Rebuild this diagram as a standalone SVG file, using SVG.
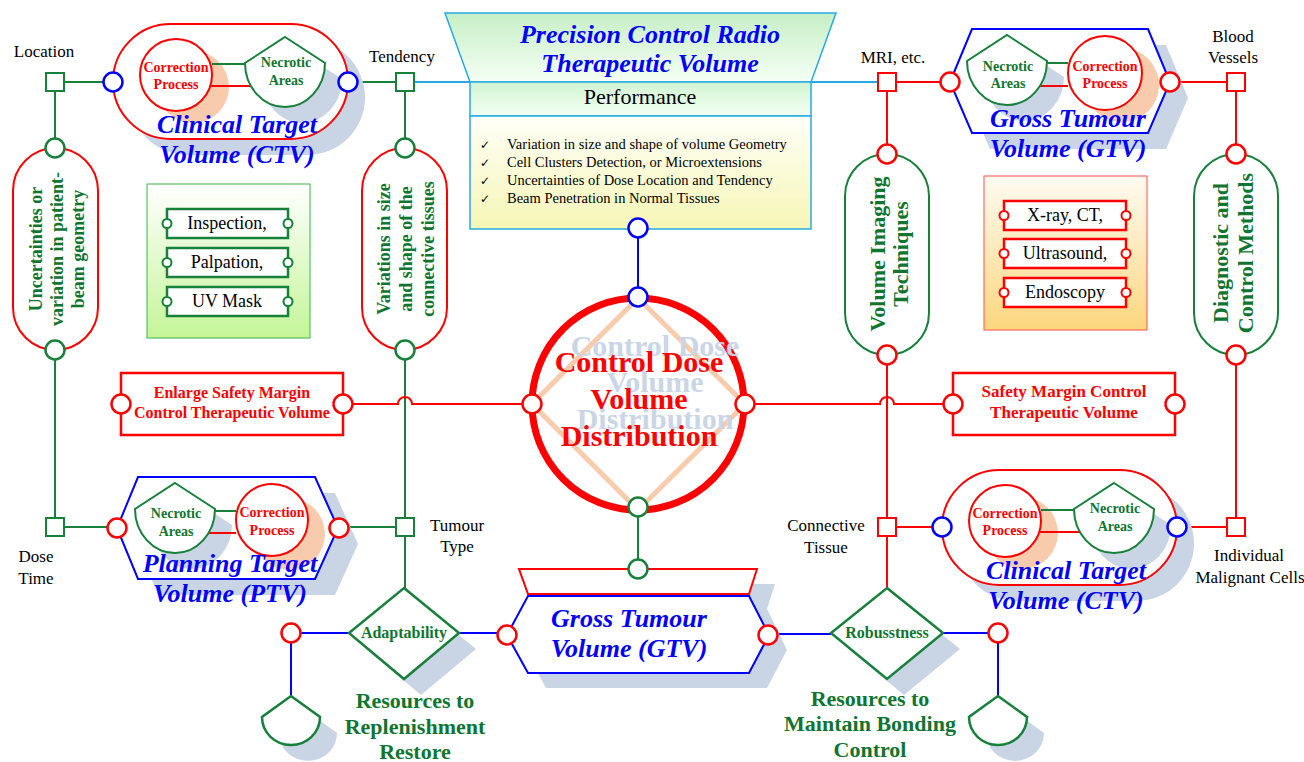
<svg xmlns="http://www.w3.org/2000/svg" width="1304" height="762" viewBox="0 0 1304 762">
<defs>
<linearGradient id="gTitle" x1="0" y1="0" x2="0" y2="1"><stop offset="0" stop-color="#c6efc6"/><stop offset="1" stop-color="#f5fff5"/></linearGradient>
<linearGradient id="gPerf" x1="0" y1="0" x2="0" y2="1"><stop offset="0" stop-color="#d2f4d2"/><stop offset="1" stop-color="#f2fff2"/></linearGradient>
<linearGradient id="gList" x1="0" y1="0" x2="0" y2="1"><stop offset="0" stop-color="#fffff8"/><stop offset="1" stop-color="#f6f6b6"/></linearGradient>
<linearGradient id="gGreen" x1="0" y1="0" x2="0" y2="1"><stop offset="0" stop-color="#ffffff"/><stop offset="1" stop-color="#c4f598"/></linearGradient>
<linearGradient id="gOrange" x1="0" y1="0" x2="0" y2="1"><stop offset="0" stop-color="#fffbf2"/><stop offset="1" stop-color="#fcd67e"/></linearGradient>
<path id="pent" d="M0,0 L40,26 A40,44 0 0 1 -40,26 Z"/>
<path id="shield" d="M0,0 L29,21 A29,28 0 0 1 -29,21 Z"/>
</defs>
<style>
.sg{stroke:#17803a;fill:none;stroke-width:2}
.sr{stroke:#ff0000;fill:none;stroke-width:2}
.sb{stroke:#0000ff;fill:none;stroke-width:2}
.sc{stroke:#27aae1;fill:none;stroke-width:2}
.sh{fill:#c9d5e5;stroke:none}
.pe{fill:#f8cbad;stroke:none}
.wg{fill:#fff;stroke:#17803a;stroke-width:2}
.wr{fill:#fff;stroke:#ff0000;stroke-width:2}
.wb{fill:#fff;stroke:#0000ff;stroke-width:2}
.pr{fill:#fff;stroke:#ff0000;stroke-width:2.5}
.pg{fill:#fff;stroke:#17803a;stroke-width:2.5}
.pb{fill:#fff;stroke:#0000ff;stroke-width:2.5}
text{font-family:"Liberation Serif","Times New Roman",serif;text-anchor:middle}
.lbl{font-size:17px;fill:#000}
.ttl{font-size:26px;font-weight:bold;font-style:italic;fill:#0000ff}
.cp{font-size:14px;font-weight:bold;fill:#ff0000}
.na{font-size:14px;font-weight:bold;fill:#0f7530}
.vg{font-size:18px;font-weight:bold;fill:#0f7530}
.vg2{font-size:22px;font-weight:bold;fill:#0f7530}
.itm{font-size:18px;fill:#000}
.mr{font-size:16px;font-weight:bold;fill:#ff0000}
.res{font-size:22px;font-weight:bold;fill:#0f7530}
.dm{font-size:16px;font-weight:bold;fill:#0f7530}
.big{font-size:30px;font-weight:bold;fill:#ff0000}
.gh{font-size:30px;font-weight:bold;fill:#cad6e6}
.bl{font-size:14.5px;fill:#000;text-anchor:start}
.ck{font-family:"DejaVu Sans",sans-serif;font-size:12px;fill:#000;text-anchor:start}
</style>
<rect width="1304" height="762" fill="#fff"/>

<g id="connectors">
<path class="sc" d="M414,82 H878"/>
<path class="sg" d="M64,82 H103 M55,91 V138 M55,360 V518 M64,527 H107 M349,527 H396 M358,82 H396 M405,91 V138 M405,360 V518 M405,536 V588 M638,517 V559"/>
<path class="sb" d="M638,238 V287 M301,633 H349 M459,633 H497 M291,643 V696 M778,634 H831 M943,633 H988 M998,643 V696"/>
<path class="sr" d="M352,404 H398 A7,7 0 0 1 412,404 H522 M755,404 H880 A7,7 0 0 1 894,404 H944"/>
<path class="sr" d="M896,82 H940 M1180,82 H1227 M887,91 V144 M887,365 V518 M887,536 V588 M896,527 H932 M1187,527 H1227 M1236,91 V144 M1236,365 V518"/>
</g>

<g id="sq-location"><rect class="wg" x="46" y="73" width="18" height="18"/><text class="lbl" x="44" y="57">Location</text></g>
<g id="sq-tendency"><rect class="wg" x="396" y="73" width="18" height="18"/><text class="lbl" x="402" y="62">Tendency</text></g>
<g id="sq-dosetime"><rect class="wg" x="46" y="518" width="18" height="18"/><text class="lbl" x="36" y="562">Dose</text><text class="lbl" x="36" y="584">Time</text></g>
<g id="sq-tumourtype"><rect class="wg" x="396" y="518" width="18" height="18"/><text class="lbl" x="457" y="531">Tumour</text><text class="lbl" x="457" y="552">Type</text></g>
<g id="sq-mri"><rect class="wr" x="878" y="73" width="18" height="18"/><text class="lbl" x="893" y="63">MRI, etc.</text></g>
<g id="sq-blood"><rect class="wr" x="1227" y="73" width="18" height="18"/><text class="lbl" x="1233" y="42">Blood</text><text class="lbl" x="1233" y="63">Vessels</text></g>
<g id="sq-connective"><rect class="wr" x="878" y="518" width="18" height="18"/><text class="lbl" x="826" y="531">Connective</text><text class="lbl" x="826" y="553">Tissue</text></g>
<g id="sq-individual"><rect class="wr" x="1227" y="518" width="18" height="18"/><text class="lbl" x="1249" y="561">Individual</text><text class="lbl" x="1250" y="583">Malignant Cells</text></g>

<g id="perf">
<polygon points="445,13 836,13 811,82 470,82" fill="url(#gTitle)" stroke="#27aae1" stroke-width="1.5"/>
<rect x="470" y="82" width="341" height="34" fill="url(#gPerf)" stroke="#27aae1" stroke-width="1.5"/>
<rect x="470" y="116" width="341" height="113" fill="url(#gList)" stroke="#27aae1" stroke-width="1.5"/>
<text class="ttl" x="650" y="43">Precision Control Radio</text>
<text class="ttl" x="650" y="72">Therapeutic Volume</text>
<text x="640" y="104" style="font-size:22px;fill:#000">Performance</text>
<text class="ck" x="480" y="149">✓</text><text class="bl" x="507" y="149">Variation in size and shape of volume Geometry</text>
<text class="ck" x="480" y="167">✓</text><text class="bl" x="507" y="167">Cell Clusters Detection, or Microextensions</text>
<text class="ck" x="480" y="185">✓</text><text class="bl" x="507" y="185">Uncertainties of Dose Location and Tendency</text>
<text class="ck" x="480" y="203">✓</text><text class="bl" x="507" y="203">Beam Penetration in Normal Tissues</text>
<circle class="pb" cx="638" cy="228" r="9.5"/>
</g>

<g id="ctv-top">
<rect class="sh" x="130" y="40" width="235" height="115" rx="57.5"/>
<rect class="wr" x="113" y="24" width="235" height="115" rx="57.5"/>
<use href="#pent" class="sh" x="302" y="53"/>
<circle class="pe" cx="193" cy="87" r="36"/>
<path class="sg" d="M212,64 H248"/><path class="sr" d="M211,86 H252"/>
<circle class="wr" cx="176" cy="75" r="36"/>
<use href="#pent" class="wg" x="285" y="37"/>
<text class="cp" x="176" y="72">Correction</text><text class="cp" x="176" y="89">Process</text>
<text class="na" x="286" y="67">Necrotic</text><text class="na" x="286" y="85">Areas</text>
<text class="ttl" x="237" y="133">Clinical Target</text><text class="ttl" x="237" y="163">Volume (CTV)</text>
<circle class="pb" cx="113" cy="82" r="9.5"/><circle class="pb" cx="348" cy="82" r="9.5"/>
</g>

<g id="gtv-top">
<polygon class="sh" points="968,98 990,45 1166,45 1188,98 1166,149 990,149"/>
<polygon class="wb" points="950,82 972,29 1148,29 1170,82 1148,133 972,133"/>
<use href="#pent" class="sh" x="1024" y="51"/>
<circle class="pe" cx="1122" cy="85" r="37"/>
<path class="sg" d="M1046,63 H1068"/><path class="sr" d="M1040,86 H1068"/>
<circle class="wr" cx="1105" cy="73" r="37"/>
<use href="#pent" class="wg" x="1007" y="35"/>
<text class="na" x="1008" y="71">Necrotic</text><text class="na" x="1008" y="88">Areas</text>
<text class="cp" x="1105" y="71">Correction</text><text class="cp" x="1105" y="88">Process</text>
<text class="ttl" x="1068" y="127">Gross Tumour</text><text class="ttl" x="1068" y="157">Volume (GTV)</text>
<circle class="pr" cx="950" cy="82" r="9.5"/><circle class="pr" cx="1170" cy="82" r="9.5"/>
</g>

<g id="ptv">
<polygon class="sh" points="137,544 158,493 335,493 358,544 335,595 158,595"/>
<polygon class="wb" points="117,528 138,477 315,477 338,528 315,579 138,579"/>
<use href="#pent" class="sh" x="192" y="499"/>
<circle class="pe" cx="289" cy="534" r="36"/>
<path class="sg" d="M214,511 H236"/><path class="sr" d="M208,533 H236"/>
<circle class="wr" cx="272" cy="520" r="36"/>
<use href="#pent" class="wg" x="175" y="483"/>
<text class="na" x="176" y="518">Necrotic</text><text class="na" x="176" y="536">Areas</text>
<text class="cp" x="272" y="517">Correction</text><text class="cp" x="272" y="535">Process</text>
<text class="ttl" x="230" y="572">Planning Target</text><text class="ttl" x="230" y="602">Volume (PTV)</text>
<circle class="pr" cx="117" cy="528" r="9.5"/><circle class="pr" cx="339" cy="528" r="9.5"/>
</g>

<g id="ctv-bottom">
<rect class="sh" x="959" y="486" width="235" height="115" rx="57.5"/>
<rect class="wr" x="942" y="470" width="235" height="115" rx="57.5"/>
<use href="#pent" class="sh" x="1131" y="499"/>
<circle class="pe" cx="1022" cy="533" r="36"/>
<path class="sg" d="M1041,510 H1077"/><path class="sr" d="M1040,532 H1081"/>
<circle class="wr" cx="1005" cy="521" r="36"/>
<use href="#pent" class="wg" x="1114" y="483"/>
<text class="cp" x="1005" y="518">Correction</text><text class="cp" x="1005" y="535">Process</text>
<text class="na" x="1115" y="513">Necrotic</text><text class="na" x="1115" y="531">Areas</text>
<text class="ttl" x="1066" y="579">Clinical Target</text><text class="ttl" x="1066" y="609">Volume (CTV)</text>
<circle class="pb" cx="942" cy="527" r="9.5"/><circle class="pb" cx="1177" cy="527" r="9.5"/>
</g>

<g id="unc">
<rect class="wr" x="13" y="148" width="85" height="202" rx="42.5"/>
<text class="vg" transform="translate(55,249) rotate(-90)"><tspan x="0" y="-13">Uncertainties or</tspan><tspan x="0" y="8">variation in patient-</tspan><tspan x="0" y="29">beam geometry</tspan></text>
<circle class="pg" cx="55" cy="148" r="9.5"/><circle class="pg" cx="55" cy="350" r="9.5"/>
</g>

<g id="var">
<rect class="wr" x="362" y="148" width="85" height="202" rx="42.5"/>
<text class="vg" transform="translate(405,249) rotate(-90)"><tspan x="0" y="-15">Variations in size</tspan><tspan x="0" y="7">and shape of the</tspan><tspan x="0" y="29">connective tissues</tspan></text>
<circle class="pg" cx="405" cy="148" r="9.5"/><circle class="pg" cx="405" cy="350" r="9.5"/>
</g>

<g id="vol">
<rect class="wg" x="845" y="154" width="84" height="201" rx="42"/>
<text class="vg2" transform="translate(887,254) rotate(-90)"><tspan x="0" y="-2">Volume Imaging</tspan><tspan x="0" y="21">Techniques</tspan></text>
<circle class="pr" cx="887" cy="154" r="9.5"/><circle class="pr" cx="887" cy="355" r="9.5"/>
</g>

<g id="diag">
<rect class="wg" x="1194" y="154" width="84" height="201" rx="42"/>
<text class="vg2" transform="translate(1236,253) rotate(-90)"><tspan x="0" y="-8">Diagnostic and</tspan><tspan x="0" y="17">Control Methods</tspan></text>
<circle class="pr" cx="1236" cy="154" r="9.5"/><circle class="pr" cx="1236" cy="355" r="9.5"/>
</g>

<g id="inspect">
<rect x="147" y="184" width="163" height="154" fill="url(#gGreen)" stroke="#3cb44b" stroke-width="1"/>
<rect class="pg" x="167" y="209" width="121" height="29"/><rect class="pg" x="167" y="248" width="121" height="29"/><rect class="pg" x="167" y="287" width="121" height="29"/>
<circle class="wg" cx="167" cy="223.5" r="4.5"/><circle class="wg" cx="288" cy="223.5" r="4.5"/>
<circle class="wg" cx="167" cy="262.5" r="4.5"/><circle class="wg" cx="288" cy="262.5" r="4.5"/>
<circle class="wg" cx="167" cy="301.5" r="4.5"/><circle class="wg" cx="288" cy="301.5" r="4.5"/>
<text class="itm" x="227" y="229">Inspection,</text><text class="itm" x="227" y="268">Palpation,</text><text class="itm" x="227" y="307">UV Mask</text>
</g>

<g id="imaging">
<rect x="984" y="176" width="163" height="154" fill="url(#gOrange)" stroke="#ff5050" stroke-width="1"/>
<rect class="pr" x="1004" y="201" width="122" height="29"/><rect class="pr" x="1004" y="239" width="122" height="29"/><rect class="pr" x="1004" y="278" width="122" height="29"/>
<circle class="wr" cx="1004" cy="215.5" r="4.5"/><circle class="wr" cx="1126" cy="215.5" r="4.5"/>
<circle class="wr" cx="1004" cy="253.5" r="4.5"/><circle class="wr" cx="1126" cy="253.5" r="4.5"/>
<circle class="wr" cx="1004" cy="292.5" r="4.5"/><circle class="wr" cx="1126" cy="292.5" r="4.5"/>
<text class="itm" x="1065" y="221">X-ray, CT,</text><text class="itm" x="1065" y="259">Ultrasound,</text><text class="itm" x="1065" y="298">Endoscopy</text>
</g>

<g id="enlarge">
<rect class="pr" x="121" y="373" width="222" height="62"/>
<text class="mr" x="232" y="398">Enlarge Safety Margin</text><text class="mr" x="232" y="418">Control Therapeutic Volume</text>
<circle class="pr" cx="121" cy="404" r="9.5"/><circle class="pr" cx="343" cy="404" r="9.5"/>
</g>

<g id="safety">
<rect class="pr" x="953" y="373" width="222" height="62"/>
<text class="mr" x="1064" y="397" style="font-size:17px">Safety Margin Control</text><text class="mr" x="1064" y="418" style="font-size:17px">Therapeutic Volume</text>
<circle class="pr" cx="953" cy="404" r="9.5"/><circle class="pr" cx="1175" cy="404" r="9.5"/>
</g>

<g id="dose">
<circle cx="638" cy="404" r="106" fill="#fff" stroke="#ff0000" stroke-width="7"/>
<polygon points="638,298 532,404 638,510 745,404" fill="none" stroke="#f8cbad" stroke-width="5"/>
<text class="gh" x="655" y="356">Control Dose</text><text class="gh" x="655" y="392">Volume</text><text class="gh" x="655" y="429">Distribution</text>
<text class="big" x="639" y="372">Control Dose</text><text class="big" x="639" y="409">Volume</text><text class="big" x="639" y="446">Distribution</text>
<circle class="pb" cx="638" cy="297" r="9.5"/><circle class="pr" cx="532" cy="404" r="9.5"/><circle class="pr" cx="745" cy="404" r="9.5"/><circle class="pg" cx="638" cy="507" r="9.5"/>
</g>

<g id="gtv-bottom">
<polygon class="sh" points="537,584 775,584 767,609 787,650 767,688 546,688 525,650 546,611"/>
<polygon class="wr" points="519,569 757,569 749,594 528,594"/>
<polygon class="wb" points="507,635 528,596 749,596 769,635 749,673 528,673"/>
<text class="ttl" x="629" y="627">Gross Tumour</text><text class="ttl" x="629" y="657">Volume (GTV)</text>
<circle class="pg" cx="638" cy="569" r="9.5"/><circle class="pr" cx="507" cy="635" r="9.5"/><circle class="pr" cx="768" cy="635" r="9.5"/>
</g>

<g id="adapt">
<polygon class="sh" points="421,604 476,649 421,695 366,649"/>
<polygon class="pg" points="404,588 459,633 404,679 349,633"/>
<text class="dm" x="404" y="638">Adaptability</text>
</g>

<g id="robust">
<polygon class="sh" points="904,604 960,649 904,695 848,649"/>
<polygon class="pg" points="887,588 943,633 887,679 831,633"/>
<text class="dm" x="887" y="638">Robusstness</text>
</g>

<g id="res-left">
<circle class="pr" cx="291" cy="633" r="9.5"/>
<use href="#shield" class="sh" x="308" y="712"/>
<use href="#shield" class="pg" x="291" y="696"/>
<text class="res" x="415" y="708">Resources to</text><text class="res" x="415" y="734">Replenishment</text><text class="res" x="415" y="759">Restore</text>
</g>

<g id="res-right">
<circle class="pr" cx="998" cy="633" r="9.5"/>
<use href="#shield" class="sh" x="1015" y="712"/>
<use href="#shield" class="pg" x="998" y="696"/>
<text class="res" x="870" y="706">Resources to</text><text class="res" x="870" y="731">Maintain Bonding</text><text class="res" x="870" y="757">Control</text>
</g>
</svg>
